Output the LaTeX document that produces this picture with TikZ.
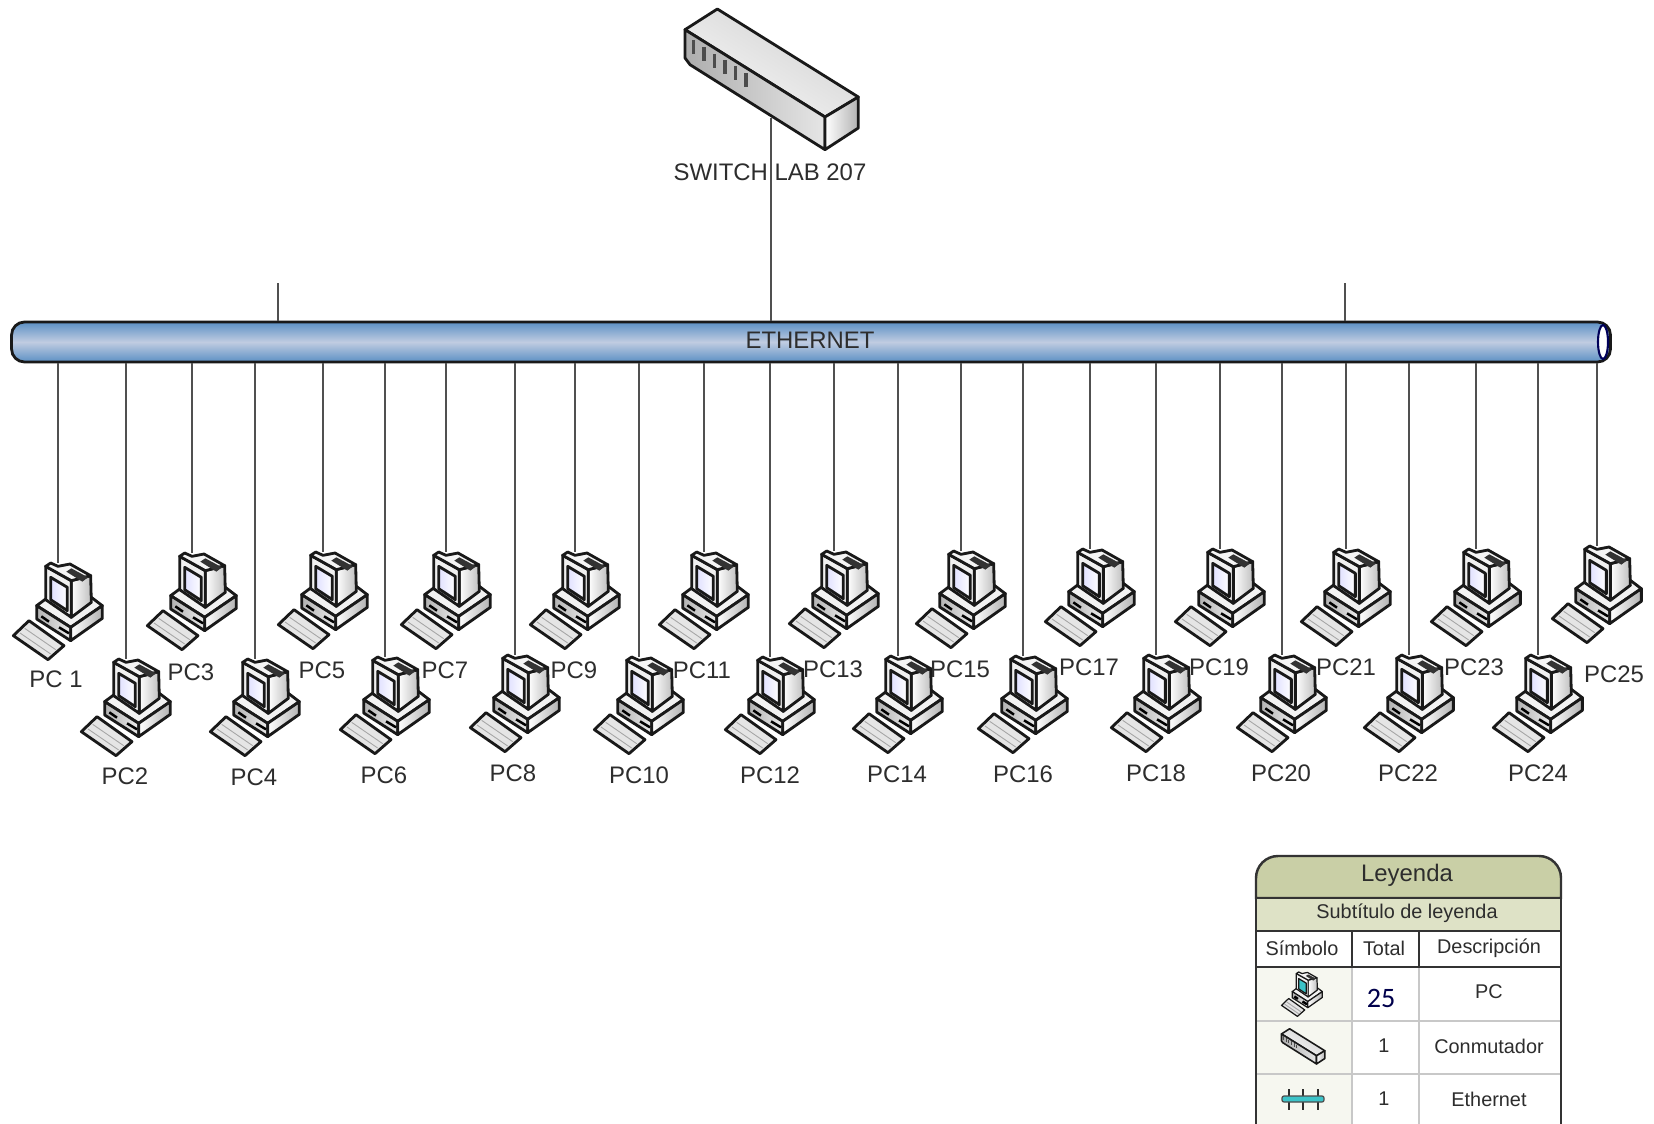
\documentclass[tikz,border=0pt]{standalone}
\usepackage{fontspec}
\setmainfont{Liberation Sans}
\newfontfamily\cifra{Carlito}
\usepackage{tikz}
\usetikzlibrary{calc}
\definecolor{tinta}{RGB}{45,45,45}
\definecolor{cable}{RGB}{80,80,80}
\definecolor{olivo}{RGB}{201,207,166}
\definecolor{olivoclaro}{RGB}{222,226,198}
\definecolor{crema}{RGB}{246,247,240}
\definecolor{rejilla}{RGB}{200,200,200}
\definecolor{azulbus}{RGB}{92,144,196}
\definecolor{azulclaro}{RGB}{192,204,225}
\definecolor{turquesa}{RGB}{60,195,200}
\tikzset{
  pantalla/.style={left color=blue!12, right color=white},
  trazo/.style={draw=black!90, line width=0.8pt, line join=round},
  pics/pc/.style={code={
    \begin{scope}[shift={(-172,-62)}]
    % teclado
    \draw[trazo, fill=black!10] (38,280) -- (85,235) -- (190,310) -- (142,352) -- cycle;
    \draw[black!35, line width=0.25pt] (58,272) -- (150,335) (72,258) -- (165,322);
    % base
    \draw[trazo, fill=black!5] (108,190) -- (135,170) -- (272,165) -- (305,190) -- (210,255) -- cycle;
    \shade[trazo, left color=black!30, right color=black!8] (108,190) -- (210,255) -- (210,295) -- (108,230) -- cycle;
    \shade[trazo, left color=white, right color=black!30] (210,255) -- (305,190) -- (305,228) -- (210,295) -- cycle;
    \draw[black, line width=0.7pt] (122,222) -- (145,238) (175,255) -- (205,273);
    % monitor
    \shade[trazo, left color=white, right color=black!25] (212,115) -- (212,225) -- (272,180) -- (270,100) -- cycle;
    \draw[trazo, fill=black!6] (135,72) -- (135,172) -- (212,225) -- (212,115) -- cycle;
    \draw[trazo, fill=black!4] (135,72) -- (150,62) -- (172,72) -- (208,65) -- (270,100) -- (212,115) -- cycle;
    \fill[black!80] (197,88) -- (212,78) -- (262,105) -- (245,118) -- cycle;
    \draw[trazo, pantalla] (150,105) -- (200,135) -- (200,205) -- (150,172) -- cycle;
    \end{scope}
  }},
  pics/conmutador/.style={code={
    \begin{scope}[shift={(-393,-355)}]
    \shade[trazo, top color=black!18, bottom color=black!3, shading angle=-32] (135,90) -- (232,28) -- (655,292) -- (555,352) -- cycle;
    \shade[trazo, left color=black!32, right color=black!10] (135,90) -- (555,352) -- (555,450) -- (150,195) -- (135,175) -- cycle;
    \shade[trazo, left color=white, right color=black!30] (555,352) -- (655,292) -- (655,385) -- (555,450) -- cycle;
    \foreach \px/\py in {160/140, 192/162, 223/182, 255/200, 287/220, 318/240}
      \fill[black!70] (\px-5,\py-20) rectangle (\px+5,\py+22);
    \end{scope}
  }}
}
\begin{document}
\begin{tikzpicture}[x=0.01cm, y=-0.01cm,
  etiqueta/.style={text=tinta, inner sep=0pt, font=\fontsize{6.8}{8}\selectfont},
  celda/.style={text=tinta, inner sep=0pt, font=\fontsize{5.65}{7}\selectfont},
  enlace/.style={draw=cable, line width=0.45pt},
  borde/.style={draw=black!80, line width=0.7pt},
  fina/.style={draw=rejilla, line width=0.6pt},
  bus/.style={draw=black!90, line width=0.8pt, rounded corners=0.13cm, top color=azulbus, bottom color=azulbus, middle color=azulclaro, minimum width=15.98cm, minimum height=0.40cm, inner sep=0pt}]
\useasboundingbox (0,0) rectangle (1654,1124);
\fill[white] (0,0) rectangle (1654,1124);

% enlaces
\coordinate (sw) at (771,118);
\coordinate (t1) at (278,283);
\coordinate (t2) at (1345,283);
\node[bus] (bus) at (811,342) {};
\draw[enlace] (sw) -- (sw |- bus.north);
\draw[enlace] (t1) -- (t1 |- bus.north);
\draw[enlace] (t2) -- (t2 |- bus.north);
\draw[draw=blue!35!black, fill=white, line width=0.6pt] (1603,342) ellipse [x radius=5, y radius=17];
\node[etiqueta] (lbus) at (810,340) {ETHERNET};

\pic[scale=0.3333] at (sw) {conmutador};
\node[etiqueta] (lsw) at (770,172) {SWITCH LAB 207};

% equipos
\foreach \n/\txt/\x/\y/\lx/\ly in {1/PC 1/58/563/56/679, 2/PC2/126/659/125/776, 3/PC3/192/553/191/672,
  4/PC4/255/659/254/777, 5/PC5/323/552/322/670, 6/PC6/385/657/384/775, 7/PC7/446/552/445/670,
  8/PC8/515/655/513/773, 9/PC9/575/552/574/670, 10/PC10/639/657/639/775, 11/PC11/704/552/702/670,
  12/PC12/770/657/770/775, 13/PC13/834/551/833/669, 14/PC14/898/656/897/774, 15/PC15/961/551/960/669,
  16/PC16/1023/656/1023/774, 17/PC17/1090/549/1089/667, 18/PC18/1156/655/1156/773, 19/PC19/1220/549/1219/667,
  20/PC20/1282/655/1281/773, 21/PC21/1346/549/1346/667, 22/PC22/1409/655/1408/773, 23/PC23/1476/549/1474/667,
  24/PC24/1538/655/1538/773, 25/PC25/1597/546/1614/674}
{
  \coordinate (pc\n) at (\x,\y);
  \draw[enlace] (pc\n |- bus.south) -- (pc\n);
  \pic[scale=0.3333] at (pc\n) {pc};
  \node[etiqueta] (l\n) at (\lx,\ly) {\txt};
}

% leyenda
\fill[crema] (1256,967) rectangle (1352,1124);
\draw[fina] (1256,1021) -- (1562,1021) (1256,1074) -- (1562,1074) (1352,967) -- (1352,1124) (1419,967) -- (1419,1124);
\draw[borde, fill=olivo] (1256,898) [rounded corners=0.22cm] -- (1256,856) -- (1561,856) [sharp corners] -- (1561,898) -- cycle;
\draw[borde, fill=olivoclaro] (1256,898) rectangle (1561,931);
\draw[borde, fill=white] (1256,931) rectangle (1561,967);
\draw[borde] (1352,931) -- (1352,967) (1419,931) -- (1419,967);
\draw[borde] (1256,967) -- (1256,1124) (1561,967) -- (1561,1124);
\node[etiqueta] (ley) at (1407,875) {Leyenda};
\node[celda] (sub) at (1407,913) {Subtítulo de leyenda};
\node[celda] (h1) at (1302,948) {Símbolo};
\node[celda] (h2) at (1384,948) {Total};
\node[celda] (h3) at (1489,948) {Descripción};
\node[text=blue!30!black, inner sep=0pt, font=\fontsize{8}{9}\cifra\selectfont] (v1) at (1381,998) {25};
\node[celda] (d1) at (1489,992) {PC};
\node[celda] (v2) at (1384,1046) {1};
\node[celda] (d2) at (1489,1046) {Conmutador};
\node[celda] (v3) at (1384,1099) {1};
\node[celda] (d3) at (1489,1099) {Ethernet};
\pic[scale=0.153, trazo/.append style={line width=0.35pt}, pantalla/.style={fill=turquesa}] at (1302,972) {pc};
\pic[scale=0.0833, trazo/.append style={line width=0.45pt}] at (1303,1056) {conmutador};
\draw[tinta, line width=0.35pt] (1289,1089) -- (1289,1110) (1303,1089) -- (1303,1110) (1318,1089) -- (1318,1110);
\node[draw=black!70, fill=turquesa, line width=0.35pt, rounded corners=0.02cm, minimum width=0.42cm, minimum height=0.06cm, inner sep=0pt] (eth) at (1303,1099) {};
\end{tikzpicture}
\end{document}
